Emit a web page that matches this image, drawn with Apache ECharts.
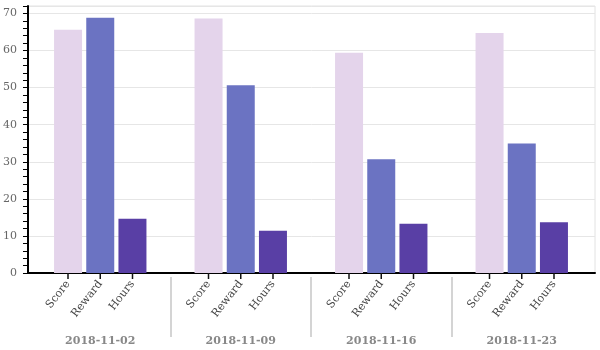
<!DOCTYPE html>
<html>
<head>
<meta charset="utf-8">
<script src="https://cdn.jsdelivr.net/npm/echarts@6/dist/echarts.min.js"></script>
<style>
  html, body { margin: 0; padding: 0; background: #fff; }
  #chart { width: 600px; height: 350px; }
</style>
</head>
<body>
<div id="chart"></div>
<script>
// Weekly totals per metric
const weeks = ['2018-11-02', '2018-11-09', '2018-11-16', '2018-11-23'];
const metrics = ['Score', 'Reward', 'Hours'];
const score = [65.6, 68.6, 59.4, 64.7];
const reward = [68.8, 50.6, 30.7, 34.9];
const hours = [14.6, 11.4, 13.3, 13.7];

// Value axis range
const yMin = 0;
const yMax = 72;
const yMajorStep = 10;
const yMinorStep = 2;

const seriesValues = [score, reward, hours];
const colors = ['#e4d4eb', '#6b73c2', '#593fa5'];

// one boundary slot on either side of every week, used for the group dividers
const weekBounds = Array.from({ length: weeks.length + 1 }, () => '');

const serif = '"DejaVu Serif", serif';
const barWidth = 28;
const barGap = '15%';

const frameGrid = { left: 26, right: 5, top: 6, bottom: 77 };
const barGrid = { left: 30, right: 8, top: 6, bottom: 77 };
// thin strip just under the category axis that holds the per-bar ticks
const tickGrid = { left: 30, right: 8, top: 273, bottom: 71 };

const chart = echarts.init(document.getElementById('chart'), null, { renderer: 'canvas' });

const barSeries = metrics.map((name, i) => ({
  type: 'bar',
  name: name,
  xAxisIndex: 1,
  yAxisIndex: 2,
  data: seriesValues[i],
  barWidth: barWidth,
  barGap: barGap,
  itemStyle: { color: colors[i] },
  label: {
    show: true,
    position: 'bottom',
    distance: 9,
    rotate: 52,
    align: 'right',
    verticalAlign: 'middle',
    formatter: () => name,
    fontFamily: serif,
    fontSize: 11,
    color: '#444'
  }
}));

// ticks under the bars: narrow bars spaced like the real ones, clipped to the strip
const tickSeries = metrics.map((name, i) => ({
  type: 'bar',
  name: name + '-tick',
  xAxisIndex: 3,
  yAxisIndex: 3,
  data: seriesValues[i],
  barWidth: 1.5,
  barGap: '2050%',
  clip: true,
  silent: true,
  itemStyle: { color: '#111' }
}));

const option = {
  animation: false,
  backgroundColor: '#fff',
  grid: [
    Object.assign({ show: true, borderColor: '#e2e2e2', borderWidth: 1, backgroundColor: 'transparent' }, frameGrid),
    Object.assign({}, barGrid),
    Object.assign({}, tickGrid)
  ],
  xAxis: [
    {
      gridIndex: 0, type: 'category', data: weeks, position: 'bottom',
      axisLine: { show: true, lineStyle: { color: '#000', width: 2 } },
      axisTick: { show: false },
      axisLabel: { show: false },
      splitLine: { show: false }
    },
    {
      gridIndex: 1, type: 'category', data: weeks, position: 'bottom',
      axisLine: { show: false },
      axisTick: { show: false },
      axisLabel: {
        margin: 63,
        fontFamily: serif,
        fontWeight: 'bold',
        fontSize: 11,
        color: '#888'
      }
    },
    {
      gridIndex: 1, type: 'category', data: weekBounds, position: 'bottom',
      boundaryGap: false, offset: 4,
      axisLine: { show: false },
      axisLabel: { show: false },
      axisTick: {
        show: true,
        length: 60,
        interval: (idx) => idx > 0 && idx < weeks.length,
        lineStyle: { color: '#d4d4d4', width: 2 }
      }
    },
    {
      gridIndex: 2, type: 'category', data: weeks, position: 'bottom', show: false
    }
  ],
  yAxis: [
    {
      gridIndex: 0, type: 'value', position: 'left', min: yMin, max: yMax, interval: yMinorStep,
      axisLine: { show: true, lineStyle: { color: '#000', width: 2 } },
      axisTick: { show: true, length: 5, lineStyle: { color: '#000', width: 1 } },
      axisLabel: { show: false },
      splitLine: { show: false }
    },
    {
      gridIndex: 0, type: 'value', position: 'left', min: yMin, max: yMax, interval: yMajorStep,
      axisLine: { show: false },
      axisTick: { show: false },
      axisLabel: {
        margin: 11,
        showMaxLabel: false,
        fontFamily: serif,
        fontSize: 11,
        color: '#666'
      },
      splitLine: { show: true, lineStyle: { color: '#e6e6e6', width: 1 } }
    },
    { gridIndex: 1, type: 'value', position: 'left', min: yMin, max: yMax, show: false },
    { gridIndex: 2, type: 'value', position: 'left', min: 0, max: 1, inverse: true, show: false }
  ],
  series: barSeries.concat(tickSeries)
};

chart.setOption(option);
</script>
</body>
</html>
